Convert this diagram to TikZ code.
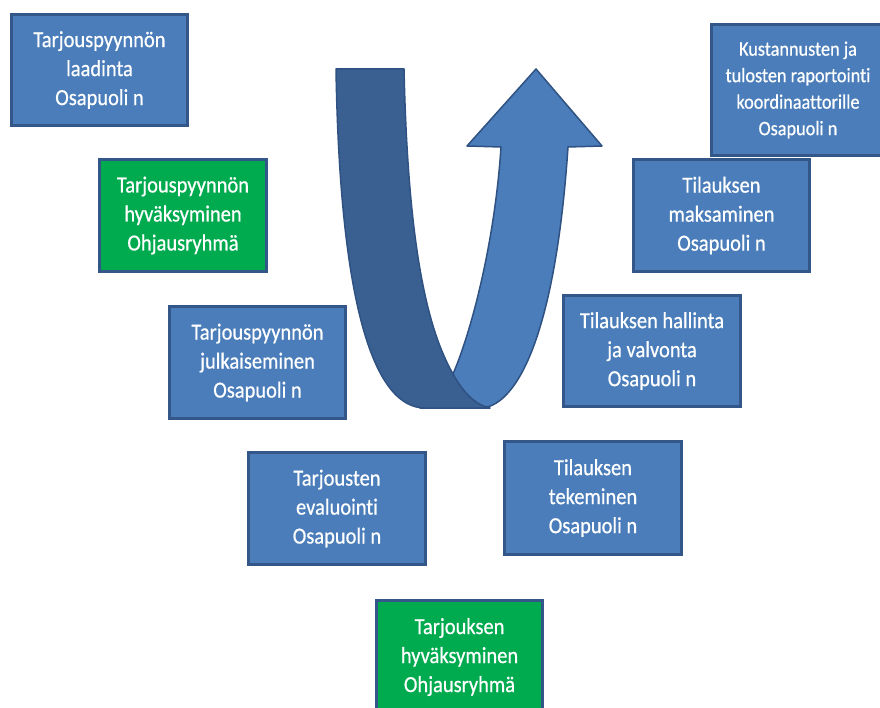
\documentclass[tikz,border=0pt]{standalone}
\usepackage{fontspec}
\newfontfamily\boxfont[FakeStretch=0.89, FakeBold=0.6, Ligatures=NoCommon]{Carlito}
\definecolor{boxblue}{HTML}{4A7DBA}
\definecolor{boxline}{HTML}{34578A}
\definecolor{boxgreen}{HTML}{00AA4E}
\definecolor{banddark}{HTML}{3A5F91}
\definecolor{bandlight}{HTML}{4A7DBA}
\definecolor{bandline}{HTML}{2F5282}
\tikzset{
  stepbox/.style={draw=boxline, line width=3pt, fill=boxblue, text=white,
    align=center, inner sep=0pt,
    font=\boxfont\fontsize{23}{29}\selectfont},
  greenbox/.style={stepbox, fill=boxgreen},
  smalltext/.style={font=\boxfont\fontsize{20.5}{26.5}\selectfont},
  band/.style={draw=bandline, line width=1.5pt, line join=round}
}
\begin{document}
\begin{tikzpicture}[x=1pt,y=-1pt]
\useasboundingbox (0,0) rectangle (880,708);
\clip (0,0) rectangle (880,708);
\fill[white] (0,0) rectangle (880,708);

% U-turn arrow: light (rising) part
\path[band, fill=bandlight]
  (420,408) -- (480,408) .. controls (515,408) and (555,340) .. (568,147)
  -- (602,146) -- (536,69) -- (467,146) -- (501,147)
  .. controls (495,240) and (472,330) .. (453,374)
  -- (430,400) -- cycle;
% dark (descending) part
\path[band, fill=banddark]
  (336,69) -- (404,69) .. controls (408,250) and (428,330) .. (453,374)
  .. controls (463,392) and (475,405) .. (490,408)
  -- (425,408) .. controls (375,408) and (340,310) .. (336,69) -- cycle;

\node[stepbox, minimum width=176pt, minimum height=111pt] (laadinta) at (99.5,70)
  {Tarjouspyynnön\\laadinta\\Osapuoli n};
\node[greenbox, minimum width=167pt, minimum height=112pt] (hyvaksyminen) at (183,215.5)
  {Tarjouspyynnön\\hyväksyminen\\Ohjausryhmä};
\node[stepbox, minimum width=176pt, minimum height=112pt] (julkaiseminen) at (257.5,362.5)
  {Tarjouspyynnön\\julkaiseminen\\Osapuoli n};
\node[stepbox, minimum width=177pt, minimum height=112pt] (evaluointi) at (337,508.5)
  {Tarjousten\\evaluointi\\Osapuoli n};
\node[greenbox, minimum width=166pt, minimum height=114pt] (tarjous) at (459.5,657)
  {Tarjouksen\\hyväksyminen\\Ohjausryhmä};
\node[stepbox, minimum width=177pt, minimum height=113pt] (tekeminen) at (593,498)
  {Tilauksen\\tekeminen\\Osapuoli n};
\node[stepbox, minimum width=177pt, minimum height=111pt] (hallinta) at (652,351)
  {Tilauksen hallinta\\ja valvonta\\Osapuoli n};
\node[stepbox, minimum width=176pt, minimum height=112pt] (maksaminen) at (721.5,215.5)
  {Tilauksen\\maksaminen\\Osapuoli n};
\node[stepbox, smalltext, minimum width=173pt, minimum height=131pt] (raportointi) at (798,90)
  {Kustannusten ja\\tulosten raportointi\\koordinaattorille\\Osapuoli n};
\end{tikzpicture}
\end{document}
